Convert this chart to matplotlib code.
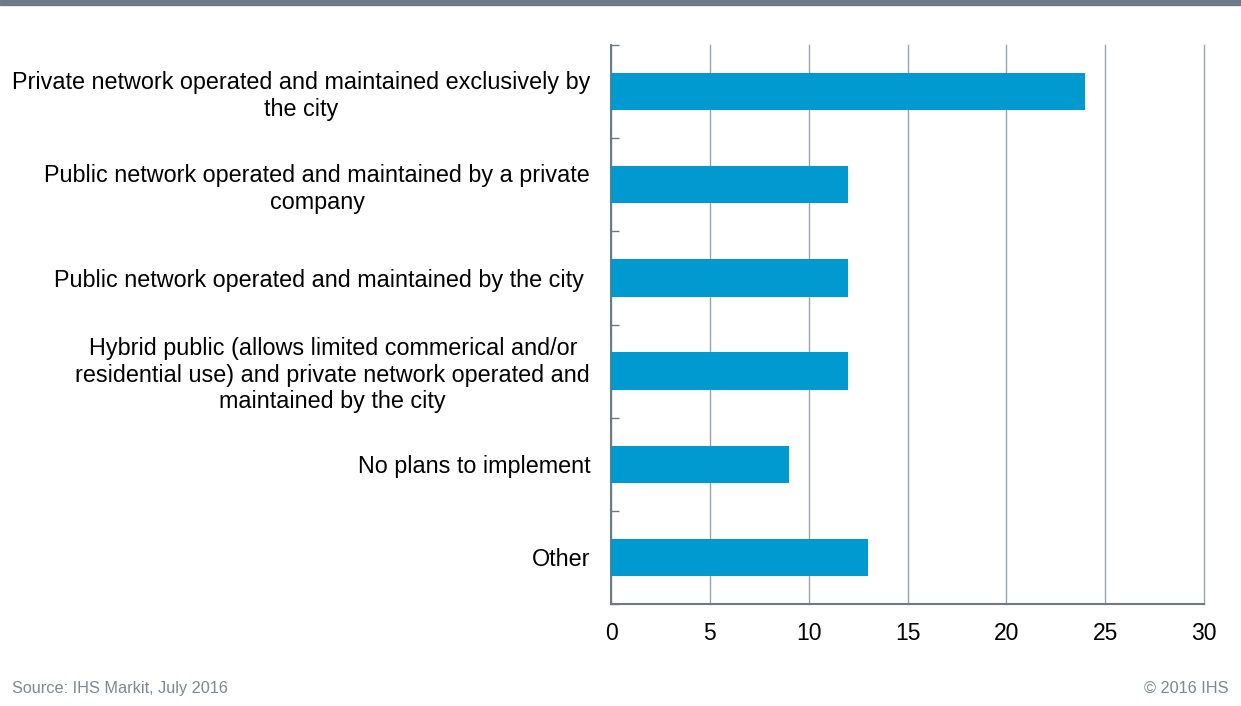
import matplotlib.pyplot as plt
from matplotlib.patches import Rectangle

plt.rcParams['font.family'] = ['Liberation Sans', 'DejaVu Sans']

categories = [
    "Private network operated and maintained exclusively by\nthe city",
    "Public network operated and maintained by a private\ncompany",
    "Public network operated and maintained by the city ",
    "Hybrid public (allows limited commerical and/or\nresidential use) and private network operated and\nmaintained by the city",
    "No plans to implement",
    "Other",
]
values = [24, 12, 12, 12, 9, 13]
xticks = [0, 5, 10, 15, 20, 25, 30]

bar_color = "#0099d0"
axis_color = "#6d7a88"
grid_color = "#9aa3ad"

fig = plt.figure(figsize=(12.41, 7.06), dpi=100)
ax = fig.add_axes([611 / 1241, 1 - 604 / 706, (1204 - 611) / 1241, (604 - 45) / 706])

pos = list(range(len(categories)))
ax.barh(pos, values, height=0.4, color=bar_color, zorder=3)
ax.set_ylim(len(categories) - 0.5, -0.5)
ax.set_xlim(0, 30)
ax.set_xticks(xticks)
ax.set_xticklabels([str(t) for t in xticks], fontsize=16.5)
ax.tick_params(axis='x', length=0, pad=13, labelcolor='black')

ax.set_yticks(pos)
ax.set_yticklabels(categories, fontsize=16.8, multialignment='center')
ax.tick_params(axis='y', which='major', length=0, pad=15)
ax.set_yticks([p - 0.5 for p in pos] + [len(pos) - 0.5], minor=True)
ax.tick_params(axis='y', which='minor', direction='in', length=6,
               color=axis_color, width=1)

ax.grid(axis='x', color=grid_color, linewidth=1, zorder=0)
for gl in ax.get_xgridlines():
    gl.set_clip_on(False)
for side in ['top', 'right']:
    ax.spines[side].set_visible(False)
for side in ['left', 'bottom']:
    ax.spines[side].set_color(axis_color)
    ax.spines[side].set_linewidth(1.5)

# grey band along the top edge
fig.patches.append(Rectangle((0, 1 - 5 / 706), 1, 5 / 706, transform=fig.transFigure,
                             color=axis_color, zorder=5))

fig.text(12 / 1241, 1 - 688 / 706, "Source: IHS Markit, July 2016", fontsize=11.7,
         color="#7d8894", va='center', ha='left')
fig.text(1229 / 1241, 1 - 688 / 706, "\u00a9 2016 IHS", fontsize=11.7,
         color="#7d8894", va='center', ha='right')

fig.savefig("out.png", dpi=100)
